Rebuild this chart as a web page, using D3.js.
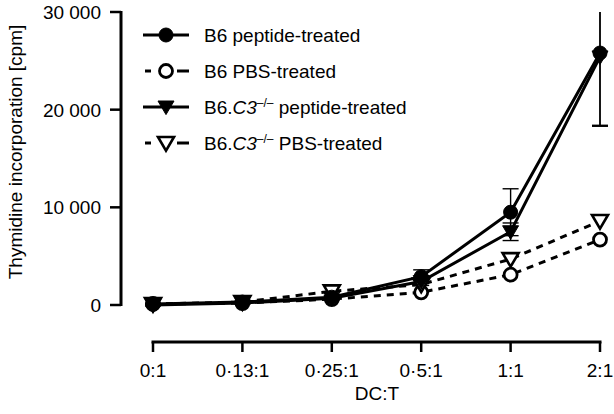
<!DOCTYPE html>
<html><head><meta charset="utf-8">
<script src="https://cdn.jsdelivr.net/npm/d3@7"></script>
<style>body{margin:0;background:#fff}text{font-family:"Liberation Sans",Arial,sans-serif;fill:#000}</style>
</head><body>
<svg id="c" width="614" height="414"></svg>
<script>
const categories = ["0:1","0·13:1","0·25:1","0·5:1","1:1","2:1"];
const yTicks = [0,10000,20000,30000];
const yTickLabels = ["0","10 000","20 000","30 000"];
const b6Peptide = [100, 300, 800, 2900, 9500, 25800];
const b6PeptideErr = [100, 100, 200, 700, 2400, 7400];
const b6PBS = [100, 200, 600, 1300, 3100, 6700];
const c3Peptide = [0, 200, 700, 2400, 7500, 25400];
const c3PeptideErr = [100, 100, 200, 400, 900, 7100];
const c3PBS = [100, 300, 1400, 2100, 4700, 8600];

const FS = 19;
const svg = d3.select("#c");
const x = d3.scalePoint().domain(categories).range([153, 600]);
const y = d3.scaleLinear().domain([0, 30000]).range([305, 12]);

// y axis
const ya = svg.append("g");
ya.append("line").attr("x1",121).attr("x2",121).attr("y1",y(30000)-1).attr("y2",y(0)+1).attr("stroke","#000").attr("stroke-width",3);
yTicks.forEach((t,i)=>{
  ya.append("line").attr("x1",110).attr("x2",121).attr("y1",y(t)).attr("y2",y(t)).attr("stroke","#000").attr("stroke-width",2.5);
  ya.append("text").attr("x",101).attr("y",y(t)).attr("dy","0.36em").attr("text-anchor","end").attr("font-size",FS).text(yTickLabels[i]);
});
svg.append("text").attr("transform","translate(22,152) rotate(-90)").attr("text-anchor","middle").attr("font-size",FS).text("Thymidine incorporation [cpm]");

// x axis
const xa = svg.append("g");
xa.append("line").attr("x1",x(categories[0])-1.5).attr("x2",x(categories[5])+1.5).attr("y1",342).attr("y2",342).attr("stroke","#000").attr("stroke-width",3);
categories.forEach(c=>{
  xa.append("line").attr("x1",x(c)).attr("x2",x(c)).attr("y1",342).attr("y2",352).attr("stroke","#000").attr("stroke-width",2.5);
  xa.append("text").attr("x",x(c)).attr("y",370).attr("dy","0.36em").attr("text-anchor","middle").attr("font-size",FS).text(c);
});
svg.append("text").attr("x",377).attr("y",393).attr("dy","0.36em").attr("text-anchor","middle").attr("font-size",FS).text("DC:T");

const line = d3.line().x((d,i)=>x(categories[i])).y(d=>y(d));

function errBars(vals, errs){
  const g = svg.append("g");
  vals.forEach((v,i)=>{
    const cx = x(categories[i]);
    const top = Math.min(30000, v+errs[i]);
    g.append("line").attr("x1",cx).attr("x2",cx).attr("y1",y(top)).attr("y2",y(v-errs[i])).attr("stroke","#000").attr("stroke-width",1.4);
    if (v+errs[i] <= 30000) g.append("line").attr("x1",cx-8).attr("x2",cx+8).attr("y1",y(top)).attr("y2",y(top)).attr("stroke","#000").attr("stroke-width",1.4);
    g.append("line").attr("x1",cx-8).attr("x2",cx+8).attr("y1",y(v-errs[i])).attr("y2",y(v-errs[i])).attr("stroke","#000").attr("stroke-width",1.4);
  });
}
errBars(b6Peptide, b6PeptideErr);
errBars(c3Peptide, c3PeptideErr);

function circle(g, cx, cy, filled){
  g.append("circle").attr("cx",cx).attr("cy",cy).attr("r",filled?7:6.5).attr("fill",filled?"#000":"#fff").attr("stroke","#000").attr("stroke-width",filled?1:2.8);
}
function tri(g, cx, cy, filled){
  const s = 8;
  g.append("path").attr("d",`M${cx-s},${cy-s*0.75} L${cx+s},${cy-s*0.75} L${cx},${cy+s*0.95} Z`)
   .attr("fill",filled?"#000":"#fff").attr("stroke","#000").attr("stroke-width",filled?1:2.6).attr("stroke-linejoin","miter");
}

const series = [
  {vals:b6PBS, dash:"7,6", marker:circle, filled:false},
  {vals:c3PBS, dash:"7,6", marker:tri, filled:false},
  {vals:c3Peptide, dash:null, marker:tri, filled:true},
  {vals:b6Peptide, dash:null, marker:circle, filled:true}
];
series.forEach(s=>{
  svg.append("path").datum(s.vals).attr("d",line).attr("fill","none").attr("stroke","#000").attr("stroke-width",3).attr("stroke-dasharray",s.dash);
});
series.forEach(s=>{
  const g = svg.append("g");
  s.vals.forEach((v,i)=>s.marker(g, x(categories[i]), y(v), s.filled));
});

// legend
const legend = [
  {label:"B6 peptide-treated", dash:null, marker:circle, filled:true},
  {label:"B6 PBS-treated", dash:"dash", marker:circle, filled:false},
  {label:"C3", dash:null, marker:tri, filled:true, c3:true, rest:" peptide-treated"},
  {label:"C3", dash:"dash", marker:tri, filled:false, c3:true, rest:" PBS-treated"}
];
legend.forEach((l,i)=>{
  const ly = 35 + i*36;
  const g = svg.append("g");
  if (l.dash){
    g.append("line").attr("x1",145).attr("x2",151).attr("y1",ly).attr("y2",ly).attr("stroke","#000").attr("stroke-width",3);
    g.append("line").attr("x1",177).attr("x2",189).attr("y1",ly).attr("y2",ly).attr("stroke","#000").attr("stroke-width",3);
  } else {
    g.append("line").attr("x1",143).attr("x2",189).attr("y1",ly).attr("y2",ly).attr("stroke","#000").attr("stroke-width",3);
  }
  l.marker(g, 166, ly, l.filled);
  const t = g.append("text").attr("x",204).attr("y",ly).attr("dy","0.36em").attr("font-size",FS);
  if (l.c3){
    t.append("tspan").text("B6.");
    t.append("tspan").attr("font-style","italic").text("C3");
    t.append("tspan").attr("font-size",12).attr("dy","-0.55em").text("–/–");
    t.append("tspan").attr("dy","0.35em").text(l.rest);
  } else t.text(l.label);
});
</script>
</body></html>
